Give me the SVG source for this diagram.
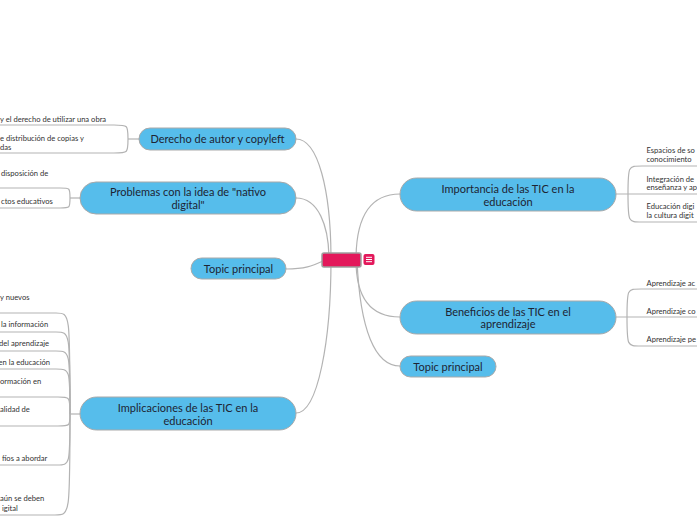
<svg xmlns="http://www.w3.org/2000/svg" width="697" height="520" viewBox="0 0 697 520">
<style>
.bg{fill:#ffffff}
.con{fill:none;stroke:#b3b3b3;stroke-width:1.2}
.main{fill:#56bdeb;stroke:#a9a9a9;stroke-width:1}
.mt{font-family:Lato,"Liberation Sans",sans-serif;font-size:11px;fill:#1d2433;text-anchor:middle}
.st{font-family:Lato,"Liberation Sans",sans-serif;font-size:7.6px;fill:#333333}
</style>
<rect class="bg" x="0" y="0" width="697" height="520"/>
<g id="connectors">
  <path class="con" d="M296,139 C318,139 331,190 331,260"/>
  <path class="con" d="M296,198 C318,198 329,225 329,260"/>
  <path class="con" d="M286,269 C305,269 312,266 323,261"/>
  <path class="con" d="M296,413 C318,413 331,340 331,260"/>
  <path class="con" d="M356,260 C356,215 372,194 400,194"/>
  <path class="con" d="M356,260 C356,300 372,317 400,317"/>
  <path class="con" d="M357,260 C360,330 375,366 400,366"/>
  <!-- Derecho sub -->
  <path class="con" d="M139,139 H128"/>
  <path class="con" d="M128,139 C128,125 128,125 114,125 H0"/>
  <path class="con" d="M128,139 C128,153 128,153 114,153 H0"/>
  <!-- Problemas sub -->
  <path class="con" d="M80,198 H70"/>
  <path class="con" d="M70,198 C70,188 70,188 60,188 H0"/>
  <path class="con" d="M70,198 C70,208 70,208 60,208 H0"/>
  <!-- Implicaciones sub -->
  <path class="con" d="M80,414 H70"/>
  <path class="con" d="M70,414 C70,313 70,313 56,313 H0"/>
  <path class="con" d="M70,414 C70,332 70,332 56,332 H0"/>
  <path class="con" d="M70,414 C70,351 70,351 56,351 H0"/>
  <path class="con" d="M70,414 C70,369 70,369 56,369 H0"/>
  <path class="con" d="M70,414 C70,397 70,397 58,397 H0"/>
  <path class="con" d="M70,414 C70,426 70,426 58,426 H0"/>
  <path class="con" d="M70,414 C70,465 70,465 57,465 H0"/>
  <path class="con" d="M70,414 C70,515 70,515 55,515 H0"/>
  <!-- Importancia sub -->
  <path class="con" d="M616,194 H697"/>
  <path class="con" d="M628,194 C628,166 628,166 642,166 H697"/>
  <path class="con" d="M628,194 C628,222 628,222 642,222 H697"/>
  <!-- Beneficios sub -->
  <path class="con" d="M616,317 H697"/>
  <path class="con" d="M627,317 C627,289 627,289 641,289 H697"/>
  <path class="con" d="M627,317 C627,346 627,346 641,346 H697"/>
</g>
<g id="center">
  <rect x="322" y="253" width="39" height="14" rx="2" fill="#e3185b" stroke="#9e9e9e" stroke-width="1.5"/>
  <rect x="363.5" y="254" width="11" height="11" rx="2" fill="#e3185b"/>
  <path d="M366,257.3 H372 M366,259.5 H372 M366,261.7 H372" stroke="#ffffff" stroke-width="1"/>
</g>
<g id="derecho">
  <rect class="main" x="139" y="128" width="157" height="22" rx="11"/>
  <text class="mt" x="217.5" y="143">Derecho de autor y copyleft</text>
</g>
<g id="derecho-sub">
  <text class="st" x="0" y="122">y el derecho de utilizar una obra</text>
  <text class="st" x="0" y="141">e distribución de copias y</text>
  <text class="st" x="0" y="149.5">das</text>
</g>
<g id="problemas">
  <rect class="main" x="80" y="182" width="216" height="32" rx="16"/>
  <text class="mt" x="188" y="196">Problemas con la idea de "nativo</text>
  <text class="mt" x="188" y="209">digital"</text>
</g>
<g id="problemas-sub">
  <text class="st" x="1" y="176">disposición de</text>
  <text class="st" x="1" y="203.5">ctos educativos</text>
</g>
<g id="topic-left">
  <rect class="main" x="191" y="258" width="95" height="21" rx="10.5"/>
  <text class="mt" x="238.5" y="272.5">Topic principal</text>
</g>
<g id="implicaciones">
  <rect class="main" x="80" y="397" width="216" height="33" rx="16.5"/>
  <text class="mt" x="188" y="412">Implicaciones de las TIC en la</text>
  <text class="mt" x="188" y="425">educación</text>
</g>
<g id="implicaciones-sub">
  <text class="st" x="0" y="299.5">y nuevos</text>
  <text class="st" x="1" y="327">la información</text>
  <text class="st" x="-1" y="346">del aprendizaje</text>
  <text class="st" x="-1.5" y="365">en la educación</text>
  <text class="st" x="0" y="384">ormación en</text>
  <text class="st" x="0" y="412">alidad de</text>
  <text class="st" x="2" y="461">fíos a abordar</text>
  <text class="st" x="0" y="501">aún se deben</text>
  <text class="st" x="2" y="511">igital</text>
</g>
<g id="importancia">
  <rect class="main" x="400" y="178" width="216" height="33" rx="16.5"/>
  <text class="mt" x="508" y="193">Importancia de las TIC en la</text>
  <text class="mt" x="508" y="205.5">educación</text>
</g>
<g id="importancia-sub">
  <text class="st" x="646.5" y="152.5">Espacios de so</text>
  <text class="st" x="646.5" y="162">conocimiento</text>
  <text class="st" x="646.5" y="181.5">Integración de</text>
  <text class="st" x="646.5" y="190">enseñanza y ap</text>
  <text class="st" x="646.5" y="209">Educación digi</text>
  <text class="st" x="646.5" y="218">la cultura digit</text>
</g>
<g id="beneficios">
  <rect class="main" x="400" y="301" width="216" height="33" rx="16.5"/>
  <text class="mt" x="508" y="316">Beneficios de las TIC en el</text>
  <text class="mt" x="508" y="328">aprendizaje</text>
</g>
<g id="beneficios-sub">
  <text class="st" x="646.5" y="285.5">Aprendizaje ac</text>
  <text class="st" x="646.5" y="313.5">Aprendizaje co</text>
  <text class="st" x="646.5" y="341.5">Aprendizaje pe</text>
</g>
<g id="topic-right">
  <rect class="main" x="400" y="356" width="96" height="21" rx="10.5"/>
  <text class="mt" x="448" y="370.5">Topic principal</text>
</g>
</svg>
